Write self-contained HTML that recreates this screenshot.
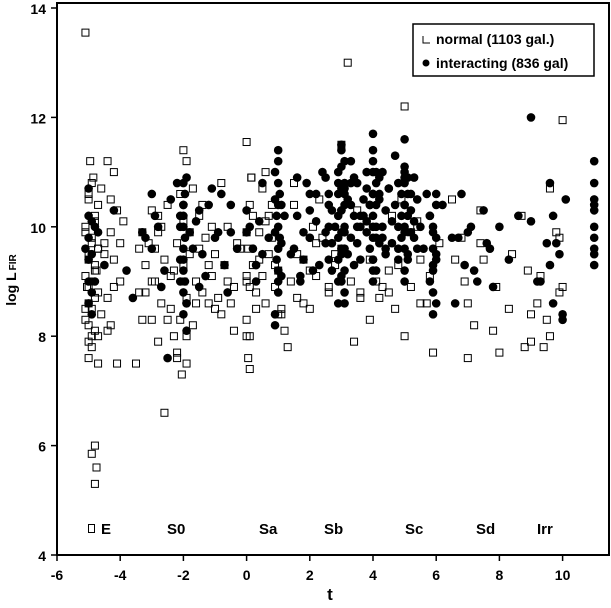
<!DOCTYPE html>
<html><head><meta charset="utf-8"><style>
body{margin:0;background:#fff;}
svg{display:block;font-family:"Liberation Sans",Arial,sans-serif;font-weight:bold;}
</style></head><body>
<svg id="chart" width="611" height="608" viewBox="0 0 611 608" xmlns="http://www.w3.org/2000/svg">
<rect x="57" y="3" width="552" height="552" fill="none" stroke="#000" stroke-width="2"/>
<g id="axes"></g>
<g id="normal"></g>
<g id="inter"></g>
<g font-size="15">
<rect x="88.5" y="524.5" width="6" height="8" fill="none" stroke="#000"/>
<text x="101" y="534">E</text>
<text x="167" y="534">S0</text>
<text x="259" y="534">Sa</text>
<text x="324" y="534">Sb</text>
<text x="405" y="534">Sc</text>
<text x="476" y="534">Sd</text>
<text x="537" y="534">Irr</text>
</g>
<g id="legend">
<rect x="413" y="24" width="181" height="52" fill="#fff" stroke="#000" stroke-width="1.5"/>
<path d="M423 36 V43 H430" fill="none" stroke="#000"/>
<text x="436" y="44" font-size="14">normal (1103 gal.)</text>
<circle cx="426" cy="63" r="3.5" fill="#000"/>
<text x="436" y="68" font-size="14">interacting (836 gal)</text>
</g>
<text x="330" y="600" font-size="17" text-anchor="middle">t</text>
<text transform="translate(16,280) rotate(-90)" font-size="14" text-anchor="middle">log L<tspan font-size="10" dx="2">FIR</tspan></text>
</svg>
<script>
const xTicks=[-6,-4,-2,0,2,4,6,8,10];
const yTicks=[4,6,8,10,12,14];
const normalT=[-5.1,-4.9,-4.75,-4.8,-4.8,-4.7,-4.9,-5.0,-4.8,-5.1,-4.9,-5.0,-4.7,-4.9,-5.1,-4.8,-5.0,-4.7,-4.9,-5.1,-4.8,-4.7,-5.0,-4.85,-4.95,-4.75,-5.05,-4.6,-4.4,-4.2,-4.3,-4.1,-4.5,-4.2,-4.0,-4.4,-4.3,-4.1,-3.5,-3.3,-3.1,-3.0,-2.8,-2.6,-2.9,-2.7,-3.2,-2.4,-2.2,-2.0,-1.9,-2.1,-1.8,-2.0,-1.9,-2.05,-1.7,-1.5,-2.3,-2.5,-1.6,-1.4,-1.2,-1.0,-0.8,-0.6,-0.4,-0.2,-1.1,-0.9,0.0,0.05,0.1,0.15,0.0,0.1,0.2,0.3,0.4,0.5,0.0,0.1,0.6,0.8,1.0,1.2,0.7,0.9,1.5,1.8,2.0,2.3,2.6,1.1,1.3,2.8,3.0,3.2,3.0,3.4,3.6,3.8,3.9,4.1,4.3,4.5,4.8,5.0,5.0,5.2,4.9,5.5,5.7,5.9,6.1,6.5,6.9,7.0,7.2,7.5,7.8,8.0,8.3,8.7,9.0,9.2,9.4,9.6,9.8,10.0,9.9,10.0,9.5,8.9,7.4,6.8,5.4,2.2,1.6,-0.5,-3.4,-2.8];
const normalV=[13.55,5.85,5.6,5.3,6.0,7.5,7.8,7.9,8.1,8.3,8.5,8.6,8.8,9.0,9.1,9.3,9.5,9.6,9.8,10.0,10.2,10.4,10.6,10.9,11.2,9.2,8.9,8.4,11.2,11.0,10.5,10.3,9.7,9.4,9.0,8.7,8.2,7.5,7.5,8.3,9.7,10.3,7.9,6.6,9.0,10.0,8.8,8.5,7.6,11.4,11.2,10.6,9.9,9.0,8.0,7.3,10.7,9.6,9.2,8.3,8.6,10.4,9.3,8.5,10.8,9.0,8.1,9.6,10.0,8.7,11.55,7.6,7.4,10.9,9.9,8.9,10.2,8.5,9.4,10.7,9.1,8.0,11.0,9.8,8.4,8.1,10.2,9.3,10.8,8.6,9.2,10.5,8.9,8.4,7.8,9.5,11.5,13.0,9.6,7.9,8.7,10.1,8.3,9.0,8.9,8.8,9.3,12.2,8.0,9.9,10.5,9.4,8.6,7.7,9.7,10.5,9.0,7.6,8.2,9.4,8.1,7.7,8.5,10.2,7.9,8.6,7.8,10.7,9.9,11.95,9.8,8.9,8.3,9.2,10.3,9.8,10.1,9.7,9.5,8.6,9.6,9.9];
const normalT2=[-5.0,-4.9,-5.0,-4.8,-5.0,-4.9,-4.8,-5.0,-4.9,-5.1,-4.8,-5.0,-4.7,-4.7,-4.6,-5.1,-4.5,-4.3,-4.2,-4.0,-3.9,-4.4,-3.4,-3.2,-3.0,-3.0,-2.9,-2.7,-2.6,-2.5,-2.4,-2.3,-2.2,-2.1,-2.0,-2.0,-1.9,-1.8,-1.7,-1.6,-1.5,-1.4,-1.3,-1.2,-1.1,-1.0,-0.8,-0.7,-0.6,-0.4,-0.3,-2.8,-3.3,-2.2,-1.9,0.0,0.0,0.05,0.1,0.0,0.2,0.3,0.4,0.5,0.6,0.7,0.8,0.9,1.0,1.1,0.15,0.6,1.4,1.6,1.8,2.0,2.2,2.4,2.6,2.8,1.5,2.1,3.3,3.6,3.9,4.2,4.5,4.7,5.2,5.5,5.8,3.5,4.6,5.4,6.6,7.0,7.4,7.9,8.4,9.0,9.3,9.6,9.9,8.8];
const normalV2=[7.6,8.0,8.2,8.7,9.4,9.7,10.1,10.5,10.8,9.9,9.2,8.9,8.0,9.6,10.7,8.5,9.5,9.9,8.9,9.7,10.1,8.1,8.8,9.3,9.0,8.3,9.6,8.6,9.4,10.4,9.1,8.0,9.7,8.3,9.3,10.1,8.7,9.5,8.2,9.0,10.2,8.8,9.8,8.6,9.1,9.5,8.4,9.3,10.0,8.9,9.7,10.2,9.9,7.7,7.5,8.3,9.0,9.6,10.4,8.0,9.3,8.8,9.9,9.1,8.6,9.5,10.4,8.9,9.2,8.5,10.9,10.1,9.0,8.7,9.4,8.5,9.1,9.8,8.8,9.3,10.4,10.0,9.0,8.8,9.4,8.7,9.2,8.5,8.9,8.6,9.1,10.3,10.2,10.0,9.4,8.6,9.7,8.9,9.5,8.4,9.1,8.0,8.8,7.8];
const interT=[-5.0,-4.9,-4.8,-5.0,-4.7,-4.9,-4.5,-4.2,-3.8,-3.6,-3.2,-3.0,-2.9,-2.7,-2.5,-2.2,-2.1,-2.0,-1.9,-1.8,-2.0,-2.1,-1.9,-1.7,-1.5,-1.3,-1.1,-0.9,-0.7,-0.5,-0.3,-0.6,0.1,0.3,0.5,0.7,0.9,1.0,1.0,1.1,1.0,0.9,1.2,1.4,1.6,1.8,2.0,1.7,2.2,2.4,2.5,2.6,2.8,2.7,2.9,3.0,3.0,3.0,3.1,3.1,3.2,3.2,3.0,3.1,3.3,3.4,3.5,3.6,3.7,3.5,3.8,3.9,4.0,4.0,4.0,4.0,4.1,4.1,4.0,4.2,4.3,4.4,4.5,4.6,4.4,4.7,4.8,4.9,5.0,5.0,5.0,5.0,5.1,5.1,5.0,5.2,5.3,5.4,5.5,5.6,5.8,5.9,6.0,5.9,6.0,6.2,6.5,6.8,7.0,7.2,7.5,7.7,8.0,8.3,8.6,9.0,9.0,9.3,9.6,9.8,10.0,10.1,11.0,11.0,11.0,11.0,11.0,11.0,3.0,3.1,4.0,4.1,5.0,2.5,3.4,4.5,3.6,4.3,5.3,1.0,2.0,4.8,3.8,2.3,4.2,3.3,0.9,-2.0];
const interV=[10.7,9.5,9.0,8.6,9.9,10.1,9.3,10.3,9.2,8.7,9.8,10.6,10.2,8.9,7.6,10.8,10.0,9.4,8.6,9.9,10.4,9.0,8.1,9.6,10.3,9.1,10.7,9.9,9.3,10.4,9.6,8.8,10.0,9.3,10.8,9.8,11.0,11.4,10.4,9.7,9.0,8.4,10.2,9.5,10.9,9.9,10.3,9.1,10.6,11.0,9.7,10.4,10.0,9.2,10.8,11.5,11.1,10.3,10.7,9.9,10.5,9.5,9.0,8.6,11.2,10.2,10.8,10.0,10.5,9.7,11.0,10.4,11.7,11.2,10.6,10.0,10.4,9.8,9.2,10.9,11.0,10.3,10.7,10.1,9.6,11.3,10.8,10.2,11.6,10.9,10.4,9.9,10.6,9.5,9.0,10.3,10.9,10.5,10.0,9.6,10.2,9.3,10.6,9.9,9.5,10.4,9.8,10.6,9.9,9.2,10.3,9.6,10.0,9.4,10.2,12.0,10.1,9.0,10.8,9.7,8.4,10.5,11.2,10.8,10.4,10.0,9.6,9.3,9.6,10.6,9.4,11.0,11.0,10.9,10.9,10.7,10.2,9.8,9.8,9.2,9.8,9.4,10.1,9.3,10.6,10.8,8.2,10.2];
const interT2=[-2.0,-2.0,-2.0,-2.0,-2.0,-2.0,-2.0,-1.95,-1.95,-1.95,-2.1,-2.1,-1.9,-1.9,-5.0,-5.0,-5.0,-5.0,-4.9,-4.9,-5.1,-4.8,-3.0,-2.8,-2.6,-1.6,-1.4,-1.2,-1.0,-0.8,-2.4,-3.3,-1.5,-0.5,0.0,0.0,0.2,0.4,0.3,0.5,1.0,1.0,1.0,1.0,1.0,1.0,0.95,0.95,1.05,1.05,1.1,1.1,0.9,0.9,1.5,1.6,1.8,2.0,2.0,2.1,2.2,1.9,1.7,2.9,3.1,2.9,3.1,2.9,3.1,2.9,3.1,2.9,3.1,2.9,3.1,2.9,3.1,3.0,3.0,3.0,3.0,3.0,3.0,2.6,2.6,2.6,2.7,2.7,2.5,3.3,3.3,3.4,3.5,4.0,4.0,4.0,4.0,4.0,4.0,4.0,3.9,3.9,4.1,4.1,4.1,3.8,3.8,4.2,4.2,3.7,4.3,4.4,3.6,5.0,5.0,5.0,5.0,5.0,5.0,4.9,4.9,5.1,5.1,5.1,4.8,4.8,5.2,5.2,4.7,5.3,4.6,5.4,5.9,5.9,5.9,5.9,5.9,6.0,6.0,6.0,5.8,5.8,6.0,5.7,6.7,6.9,7.1,7.3,7.6,7.8,6.6,9.2,9.5,9.7,9.9,9.7,10.0,9.6,11.0,11.0,11.0,11.0];
const interV2=[8.4,8.8,9.2,9.6,10.0,10.4,10.8,9.0,9.8,10.6,9.4,10.2,8.6,10.9,9.0,9.4,9.8,10.2,8.4,8.8,9.6,10.0,9.6,10.0,9.2,10.1,9.5,10.4,9.8,10.6,10.5,9.9,8.9,9.9,9.9,10.3,9.6,10.1,9.0,9.5,8.8,9.2,9.6,10.0,10.8,11.2,9.4,10.2,9.8,10.6,9.1,10.4,9.9,10.5,9.6,10.2,9.4,9.8,10.6,9.2,10.1,10.8,9.0,8.6,8.8,9.0,9.2,9.4,9.6,9.8,10.0,10.2,10.4,10.6,10.8,11.0,11.2,11.4,9.1,9.5,9.9,10.3,10.7,9.4,10.0,10.6,9.7,10.3,9.9,9.8,10.4,9.3,10.0,9.0,9.4,9.8,10.2,10.6,11.0,11.4,9.6,10.4,9.2,10.0,10.8,9.9,10.7,10.5,9.7,10.2,10.0,9.5,9.4,9.2,9.6,10.0,10.4,10.8,11.1,9.8,10.6,9.4,10.2,10.9,10.0,9.6,10.6,9.9,10.4,10.1,9.7,9.6,8.4,8.8,9.2,9.6,10.0,9.4,9.8,10.4,10.2,9.0,8.6,10.6,9.8,9.3,10.0,9.0,9.7,8.9,8.6,9.0,9.7,10.2,9.5,8.6,8.3,9.3,10.3,9.8,10.5,9.5];
const X=t=>57+(t+6)*31.6, Y=v=>555-(v-4)*54.7;
const NS='http://www.w3.org/2000/svg';
const ax=document.getElementById('axes');
function mk(tag,attrs,parent){const e=document.createElementNS(NS,tag);for(const k in attrs)e.setAttribute(k,attrs[k]);parent.appendChild(e);return e;}
xTicks.forEach(t=>{
  const l=mk('line',{x1:X(t),x2:X(t),y1:555,y2:561,stroke:'#000','stroke-width':1.5},ax);
  
  
  const tx=mk('text',{x:X(t),y:580,'font-size':14,'text-anchor':'middle'},ax);
  
  
  tx.textContent=t;
});
yTicks.forEach(v=>{
  const l=mk('line',{x1:51,x2:57,y1:Y(v),y2:Y(v),stroke:'#000','stroke-width':1.5},ax);
  
  
  const tx=mk('text',{x:46,y:Y(v)+6,'font-size':14,'text-anchor':'end'},ax);
  
  
  tx.textContent=v;
});
const gn=document.getElementById('normal');
function drawNormal(ts,vs){ts.forEach((t,i)=>{
  const r=mk('rect',{x:X(t)-3.5,y:Y(vs[i])-3.5,width:7,height:7,fill:'none',stroke:'#000','stroke-width':1},gn);
  
  
});}
drawNormal(normalT,normalV);
drawNormal(normalT2,normalV2);
const gi=document.getElementById('inter');
function drawInter(ts,vs){ts.forEach((t,i)=>{
  const c=mk('circle',{cx:X(t),cy:Y(vs[i]),r:4.3,fill:'#000'},gi);
  
  
});}
drawInter(interT,interV);
drawInter(interT2,interV2);
document.getElementById('chart').appendChild(document.getElementById('legend'));
</script>
</body></html>
